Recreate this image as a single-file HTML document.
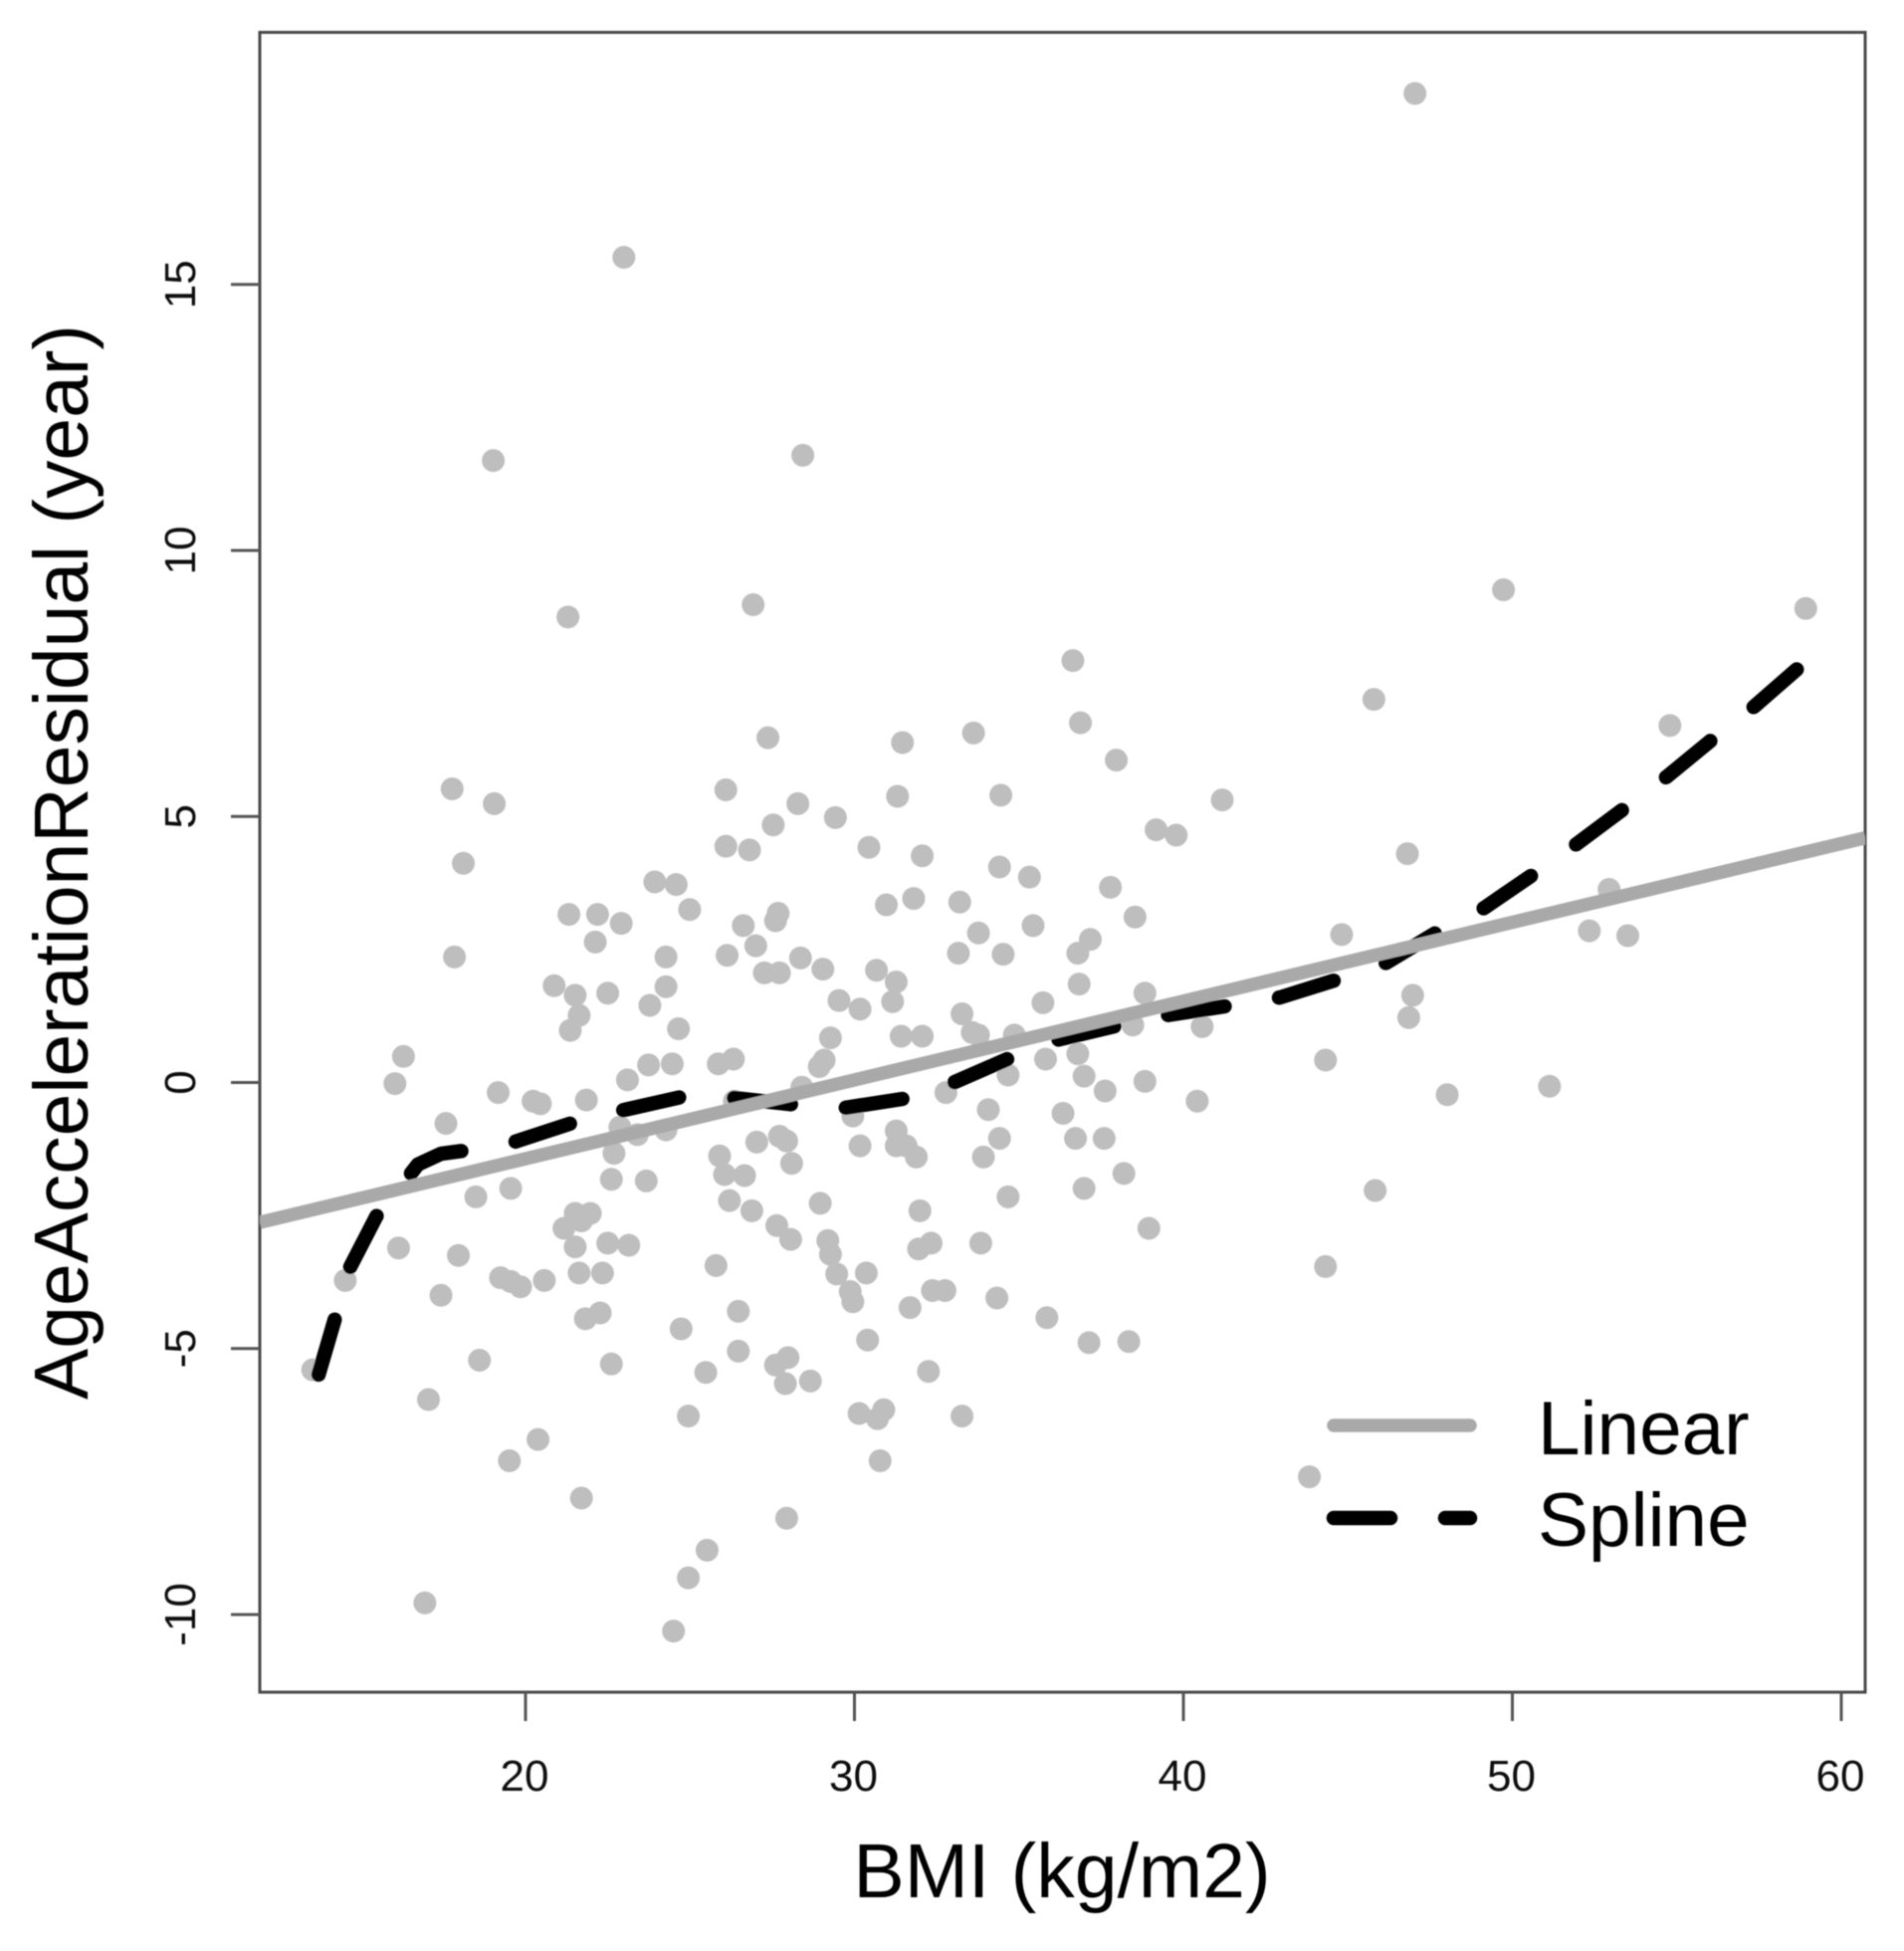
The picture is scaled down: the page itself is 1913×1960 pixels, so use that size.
<!DOCTYPE html>
<html lang="en">
<head>
<meta charset="utf-8">
<title>BMI vs Age Acceleration Residual</title>
<style>
html,body{margin:0;padding:0;background:#fff;}
body{width:1913px;height:1960px;overflow:hidden;}
svg{display:block;font-family:"Liberation Sans",Arial,sans-serif;}
</style>
</head>
<body>
<svg id="chart" xmlns="http://www.w3.org/2000/svg" width="1913" height="1960" viewBox="0 0 1913 1960">
  <defs>
    <clipPath id="plot-clip"><rect x="261" y="32.5" width="1613" height="1667.5"/></clipPath>
    <filter id="soft" x="-2%" y="-2%" width="104%" height="104%"><feGaussianBlur stdDeviation="0.6"/></filter>
  </defs>
  <g id="root" filter="url(#soft)">
    <rect id="plot-frame" x="261" y="32.5" width="1613" height="1667.5" fill="none" stroke="#4a4a4a" stroke-width="3"/>
    <g id="x-axis"></g>
    <g id="y-axis"></g>
    <g id="points"></g>
    <path id="spline-line" fill="none" stroke="#000" stroke-width="14.5" stroke-linecap="round" stroke-linejoin="round" stroke-dasharray="57.5 55.3" clip-path="url(#plot-clip)"/>
    <line id="linear-line" stroke="#a9a9a9" stroke-width="13.5" clip-path="url(#plot-clip)"/>
    <text x="1067" y="1906" font-size="77" text-anchor="middle" fill="#000">BMI (kg/m2)</text>
    <text transform="translate(88 866) rotate(-90)" font-size="76.8" text-anchor="middle" fill="#000">AgeAccelerationResidual (year)</text>
    <g>
      <line x1="1340" y1="1432" x2="1477" y2="1432" stroke="#a9a9a9" stroke-width="13.5" stroke-linecap="round"/>
      <line x1="1340" y1="1525" x2="1477" y2="1525" stroke="#000" stroke-width="14.5" stroke-linecap="round" stroke-dasharray="57 55"/>
      <text x="1545" y="1461" font-size="76.5" fill="#000">Linear</text>
      <text x="1545" y="1553" font-size="76.5" fill="#000">Spline</text>
    </g>
  </g>
</svg>
<script>
const xTickValues = [20, 30, 40, 50, 60];
const yTickValues = [-10, -5, 0, 5, 10, 15];

const bmiValues = [
47.04,22.99,19.02,28.43,21.29,26.92,49.73,58.92,36.64,36.87,45.79,54.79,27.37,31.46,33.62,37.96,17.77,19.05,26.09,31.31,
28.28,34.45,41.18,29.42,27.53,39.17,39.78,26.09,26.81,30.44,18.11,32.06,46.81,34.41,35.32,23.93,24.58,24.99,37.78,30.97,
31.80,33.20,52.94,21.32,22.19,22.91,27.68,27.60,38.53,26.62,35.43,33.77,37.17,44.81,52.34,53.51,22.12,27.00,36.79,33.16,
34.52,17.84,26.13,24.27,28.36,27.26,27.72,29.04,30.67,20.87,24.27,31.27,36.83,21.51,22.50,23.78,29.53,31.16,30.17,35.73,
38.83,46.97,21.63,33.27,21.36,24.65,31.42,32.06,33.58,29.27,33.77,34.86,46.85,40.57,38.46,16.29,23.74,24.46,25.86,26.32,
29.08,28.93,35.81,36.79,44.32,16.03,23.10,19.17,34.67,36.98,38.83,37.62,32.78,51.13,48.02,21.85,20.23,20.45,40.42,28.40,
26.35,34.07,29.95,36.34,17.58,22.87,23.40,24.27,31.27,27.03,27.72,27.94,34.41,36.72,37.59,30.17,31.27,31.57,31.88,22.69,
25.90,33.92,28.09,26.05,26.66,22.61,23.67,38.19,36.98,18.49,19.55,45.83,34.67,26.20,26.88,28.96,31.99,21.97,21.51,21.70,
21.17,27.64,28.06,38.95,22.50,23.14,16.14,21.51,29.19,32.33,31.95,33.84,17.96,29.27,21.63,22.34,25.79,29.46,30.36,44.32,
14.52,19.24,19.55,19.85,20.57,29.87,29.95,17.43,32.37,32.75,34.33,26.47,31.69,21.82,22.27,35.85,24.73,30.40,37.13,38.34,
18.60,26.47,22.61,27.60,27.98,32.25,25.48,27.90,28.66,17.05,30.14,30.89,30.70,33.27,24.95,20.38,19.51,30.78,43.83,21.70,
27.94,25.52,24.95,16.94,24.50,13.53
];
const residualValues = [
18.59,15.51,11.69,11.79,8.75,8.98,9.26,8.91,7.93,6.76,7.20,6.71,6.48,6.39,6.57,6.06,5.52,5.24,5.50,5.38,
5.24,5.40,5.31,4.98,4.84,4.75,4.65,4.44,4.37,4.42,4.12,4.26,4.30,4.05,3.86,3.77,3.72,3.25,3.67,3.34,
3.46,3.39,3.63,3.16,3.16,2.99,3.18,3.04,3.11,2.95,2.95,2.81,2.69,2.78,2.85,2.76,2.64,2.57,2.43,2.43,
2.41,2.36,2.39,2.36,2.34,2.06,2.06,2.13,2.11,1.82,1.80,1.89,1.85,1.64,1.68,1.45,1.54,1.52,1.38,1.50,
1.68,1.64,1.26,1.29,0.98,1.01,0.87,0.87,0.94,0.84,0.89,0.89,1.22,1.05,1.08,0.49,0.33,0.35,0.35,0.44,
0.42,0.30,0.44,0.54,0.42,-0.02,0.05,-0.19,0.14,0.12,0.02,-0.16,-0.19,-0.07,-0.23,-0.33,-0.35,-0.40,-0.35,-0.09,
-0.35,-0.51,-0.63,-0.58,-0.77,-0.84,-0.98,-0.89,-0.91,-1.12,-1.01,-1.10,-1.05,-1.05,-1.05,-1.19,-1.19,-1.19,-1.40,-1.33,
-1.38,-1.40,-1.52,-1.73,-1.75,-1.82,-1.85,-1.71,-1.99,-2.15,-1.99,-2.03,-2.15,-2.22,-2.41,-2.27,-2.41,-2.46,-2.46,-2.60,
-2.74,-2.69,-2.95,-2.74,-3.02,-3.06,-3.11,-3.09,-2.97,-3.02,-3.13,-3.02,-3.25,-3.23,-3.58,-3.58,-3.44,-3.60,-3.58,-3.46,
-3.72,-3.67,-3.74,-3.84,-3.72,-3.93,-4.12,-4.00,-3.91,-3.91,-4.05,-4.30,-4.23,-4.44,-4.33,-4.42,-4.63,-4.84,-4.89,-4.87,
-5.22,-5.05,-5.29,-5.31,-5.17,-5.43,-5.45,-5.66,-5.61,-5.96,-6.22,-6.15,-6.32,-6.27,-6.27,-6.71,-7.11,-7.11,-7.41,-7.81,
-8.19,-8.79,-9.31,-9.78,-10.31,-5.40
];

const splineBmi = [13.71,14.22,14.67,15.46,16.01,16.49,16.73,17.43,18.15,19.70,21.42,23.03,24.75,26.32,28.23,29.65,31.65,32.98,34.80,36.16,38.06,39.43,41.45,42.94,44.60,46.17,47.69,49.14,50.65,51.95,53.40,54.70,56.10,57.34,58.73];
const splineResidual = [-5.49,-4.41,-3.47,-2.52,-2.03,-1.73,-1.54,-1.34,-1.28,-1.11,-0.76,-0.51,-0.27,-0.29,-0.42,-0.48,-0.29,-0.01,0.48,0.80,1.08,1.26,1.45,1.60,1.92,2.25,2.82,3.28,3.92,4.48,5.15,5.75,6.46,7.06,7.81];

const linearBmiEnds = [11.92, 60.73];
const linearResidualEnds = [-2.63, 4.60];

const SVG_NS = 'http://www.w3.org/2000/svg';
function sx(v){ return 528 + 33.05 * (v - 20); }
function sy(v){ return 1087.5 - 53.45 * v; }

const xAxis = document.getElementById('x-axis');
xTickValues.forEach(function(v){
  const t = document.createElementNS(SVG_NS, 'line');
  
  
  t.setAttribute('x1', sx(v));
  t.setAttribute('x2', sx(v));
  t.setAttribute('y1', 1700);
  t.setAttribute('y2', 1729);
  t.setAttribute('stroke', '#555');
  t.setAttribute('stroke-width', 3);
  xAxis.appendChild(t);
  const l = document.createElementNS(SVG_NS, 'text');
  
  
  l.setAttribute('x', sx(v) - 1);
  l.setAttribute('y', 1799);
  l.setAttribute('font-size', 44);
  l.setAttribute('text-anchor', 'middle');
  l.setAttribute('fill', '#111');
  l.textContent = String(v);
  xAxis.appendChild(l);
});

const yAxis = document.getElementById('y-axis');
yTickValues.forEach(function(v){
  const t = document.createElementNS(SVG_NS, 'line');
  
  
  t.setAttribute('x1', 232);
  t.setAttribute('x2', 261);
  t.setAttribute('y1', sy(v));
  t.setAttribute('y2', sy(v));
  t.setAttribute('stroke', '#555');
  t.setAttribute('stroke-width', 3);
  yAxis.appendChild(t);
  const l = document.createElementNS(SVG_NS, 'text');
  
  
  l.setAttribute('transform', 'translate(196 ' + sy(v) + ') rotate(-90)');
  l.setAttribute('font-size', 44);
  l.setAttribute('text-anchor', 'middle');
  l.setAttribute('fill', '#111');
  l.textContent = String(v);
  yAxis.appendChild(l);
});

const pointsGroup = document.getElementById('points');
bmiValues.forEach(function(b, i){
  const c = document.createElementNS(SVG_NS, 'circle');
  
  
  c.setAttribute('cx', sx(b));
  c.setAttribute('cy', sy(residualValues[i]));
  c.setAttribute('r', 11.5);
  c.setAttribute('fill', '#bebebe');
  pointsGroup.appendChild(c);
});

document.getElementById('spline-line').setAttribute('d', splineBmi.map(function(b, i){
  return (i ? 'L' : 'M') + sx(b).toFixed(1) + ' ' + sy(splineResidual[i]).toFixed(1);
}).join(' '));

const linear = document.getElementById('linear-line');
linear.setAttribute('x1', sx(linearBmiEnds[0]));
linear.setAttribute('y1', sy(linearResidualEnds[0]));
linear.setAttribute('x2', sx(linearBmiEnds[1]));
linear.setAttribute('y2', sy(linearResidualEnds[1]));
</script>
</body>
</html>
